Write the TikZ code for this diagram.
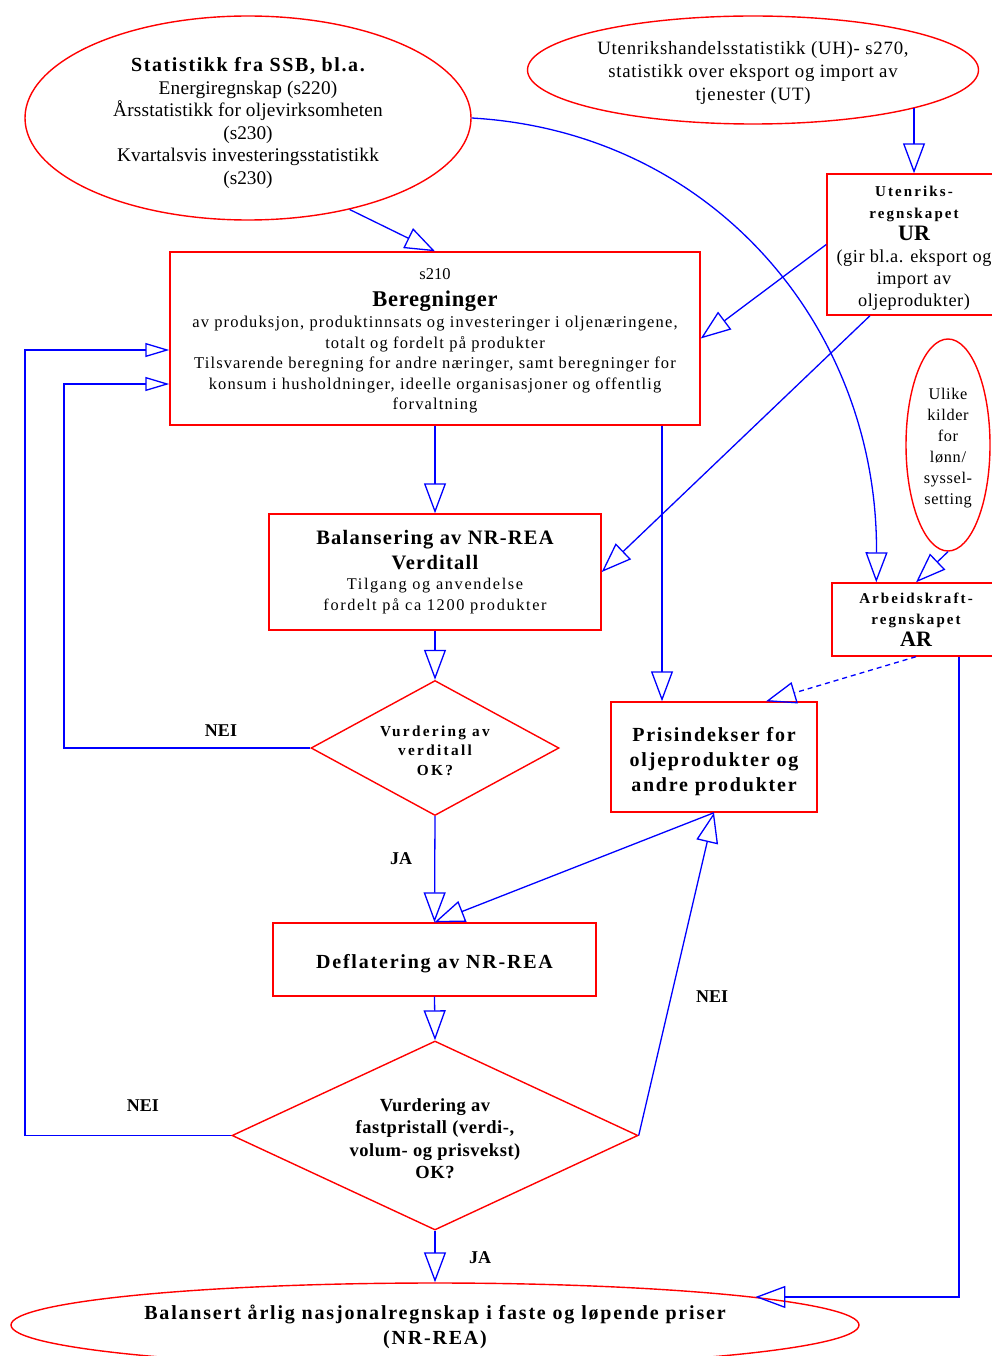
\documentclass[tikz,border=0pt]{standalone}
\usepackage{fontspec}
\setmainfont{Liberation Serif}
\usetikzlibrary{arrows.meta,shapes.geometric,calc}
\newcommand{\smallbold}[1]{{\fontsize{15}{21}\selectfont\bfseries\addfontfeature{LetterSpace=14}#1}}
\newcommand{\lsp}[2]{{\addfontfeature{LetterSpace=#1}#2}}
\newcommand{\up}[1]{\rule{0pt}{#1}}
\begin{document}
\begin{tikzpicture}[x=1pt,y=-1pt,
  redline/.style={draw=red,line width=1.4pt},
  boxnode/.style={redline,rectangle,inner sep=0pt,align=center},
  ellnode/.style={redline,ellipse,inner sep=0pt,align=center},
  dianode/.style={redline,diamond,inner sep=0pt,align=center},
  arr/.style={draw=blue,line width=1.3pt,-{Triangle[open,length=30pt,width=22pt,line width=1.3pt]}},
  arrsmall/.style={draw=blue,line width=1.3pt,-{Triangle[open,length=24pt,width=14pt,line width=1.3pt]}},
  lbl/.style={font=\fontsize{18}{20}\selectfont\bfseries,inner sep=0pt}
]
\useasboundingbox (0,0) rectangle (992,1356);

% source ellipses
\node[ellnode,minimum width=446pt,minimum height=204pt,font=\fontsize{19.3}{22.5}\selectfont] (ssb) at (248,118)
  {\up{24pt}{\fontsize{20}{22}\selectfont\bfseries\addfontfeature{LetterSpace=8}Statistikk fra SSB, bl.a.}\\
   \lsp{1}{Energiregnskap (s220)}\\
   \lsp{1}{Årsstatistikk for oljevirksomheten}\\ (s230)\\
   \lsp{1}{Kvartalsvis investeringsstatistikk}\\ (s230)};
\node[ellnode,minimum width=451pt,minimum height=108pt,font=\fontsize{18.8}{23}\selectfont] (uh) at (753,70)
  {\up{19pt}\lsp{4}{Utenrikshandelsstatistikk (UH)- s270,}\\
   \lsp{4}{statistikk over eksport og import av}\\ \lsp{4}{tjenester (UT)}};

% UR box
\node[boxnode,minimum width=174pt,minimum height=141pt,font=\fontsize{18.3}{22}\selectfont] (ur) at (914,244.5)
  {\up{17pt}\smallbold{Utenriks-}\\ \smallbold{regnskapet}\\
   {\fontsize{22}{21}\selectfont\bfseries UR}\\
   \lsp{3}{(gir bl.a. eksport og}\\ \lsp{3}{import av}\\ \lsp{3}{oljeprodukter)}};

% Beregninger
\node[boxnode,minimum width=530pt,minimum height=173pt,font=\fontsize{16.5}{20.5}\selectfont] (ber) at (435,338.5)
  {\up{16pt}s210\\[6pt]
   {\fontsize{22.5}{21}\selectfont\bfseries\addfontfeature{LetterSpace=3}Beregninger}\\[1pt]
   \lsp{7}{av produksjon, produktinnsats og investeringer i oljenæringene,}\\
   \lsp{7}{totalt og fordelt på produkter}\\
   \lsp{7}{Tilsvarende beregning for andre næringer, samt beregninger for}\\
   \lsp{7}{konsum i husholdninger, ideelle organisasjoner og offentlig}\\
   \lsp{7}{forvaltning}};

% Ulike kilder
\node[ellnode,minimum width=84pt,minimum height=212pt,font=\fontsize{16.3}{21}\selectfont] (ulike) at (948,445)
  {\up{18pt}\lsp{4}{Ulike}\\ \lsp{4}{kilder}\\ \lsp{4}{for}\\ \lsp{4}{lønn/}\\ \lsp{4}{syssel-}\\ \lsp{4}{setting}};

% AR box
\node[boxnode,minimum width=168pt,minimum height=73pt,font=\fontsize{15}{21}\selectfont] (ar) at (916,619.5)
  {\smallbold{Arbeidskraft-}\\ \smallbold{regnskapet}\\[1pt]
   {\fontsize{22}{21}\selectfont\bfseries AR}};

% Balansering
\node[boxnode,minimum width=332pt,minimum height=116pt,font=\fontsize{16.3}{21.5}\selectfont] (bal) at (435,572)
  {{\fontsize{20.5}{25}\selectfont\bfseries\addfontfeature{LetterSpace=6}Balansering av NR-REA}\\[4pt]
   {\fontsize{20.5}{25}\selectfont\bfseries\addfontfeature{LetterSpace=6}Verditall}\\[-2pt]
   \lsp{10}{Tilgang og anvendelse}\\
   \lsp{10}{fordelt på ca 1200 produkter}};

% diamond 1
\node[dianode,minimum width=248pt,minimum height=135pt,aspect=1.84,font=\fontsize{15.3}{19.5}\selectfont\bfseries] (d1) at (435,748)
  {\up{16pt}\lsp{15}{Vurdering av}\\ \lsp{15}{verditall}\\ \lsp{15}{OK?}};

% Prisindekser
\node[boxnode,minimum width=206pt,minimum height=110pt,font=\fontsize{20}{25}\selectfont\bfseries] (pris) at (714,757)
  {\up{24pt}\lsp{9}{Prisindekser for}\\ \lsp{9}{oljeprodukter og}\\ \lsp{9}{andre produkter}};

% Deflatering
\node[boxnode,minimum width=323pt,minimum height=73pt,font=\fontsize{20}{25}\selectfont\bfseries] (defl) at (434.5,959.5)
  {\up{22pt}\lsp{9}{Deflatering av NR-REA}};

% diamond 2
\node[dianode,minimum width=406pt,minimum height=189pt,aspect=2.15,font=\fontsize{18.5}{22.5}\selectfont\bfseries] (d2) at (435,1135.5)
  {\up{19pt}\lsp{3}{Vurdering av}\\ \lsp{3}{fastpristall (verdi-,}\\ \lsp{3}{volum- og prisvekst)}\\ \lsp{3}{OK?}};

% bottom ellipse
\node[ellnode,minimum width=848pt,minimum height=84pt,font=\fontsize{20}{25}\selectfont\bfseries] (bot) at (435,1325)
  {\up{19pt}\lsp{9}{Balansert årlig nasjonalregnskap i faste og løpende priser}\\ \lsp{9}{(NR-REA)}};

% helper coordinates
\coordinate (arIn) at ($(ar.north west)+(45,0)$);
\coordinate (urOut) at ($(ur.south)+(-44,0)$);
\coordinate (prIn) at ($(pris.north)+(-52,0)$);
\coordinate (prIn2) at ($(pris.north)+(52,0)$);
\coordinate (arOut) at ($(ar.south)+(43,0)$);
\coordinate (berIn1) at ($(ber.west)+(0,45.5)$);
\coordinate (berIn2) at ($(ber.west)+(0,11.5)$);
\coordinate (loop1) at (64,748);
\coordinate (loop2) at (25,1135.5);

% connectors
\draw[arr] (ur.north |- uh.-13.2) -- (ur.north);
\draw[arr] (ssb.-42.6) -- (ber.north);
\draw[arr] (ur.west) -- (ber.east);
\draw[arr] (ssb.east) .. controls (715,132) and (878,330) .. (arIn);
\draw[arr] (urOut) -- (bal.east);
\draw[arr] (ber.south) -- (bal.north);
\draw[arr] (ber.south -| prIn) -- (prIn);
\draw[arr] (ulike.south) -- (ar.north);
\draw[arr,dash pattern=on 5pt off 4pt] (ar.south) -- (prIn2);
\draw[arr] (arOut) |- (bot.5.7);
\draw[arr] (bal.south) -- (d1.north);
\draw[arrsmall] (d1.west) -- (loop1) |- (berIn1);
\draw[arr] (d1.south) -- (defl.north);
\draw[arr] (pris.south) -- (defl.north);
\draw[arr] (d2.east) -- (pris.south);
\draw[arr] (defl.south) -- (d2.north);
\draw[arrsmall] (d2.west) -- (loop2) |- (berIn2);
\draw[arr] (d2.south) -- (bot.north);

% labels
\node[lbl] (nei1) at (221,731) {NEI};
\node[lbl] (ja1) at (401,859) {JA};
\node[lbl] (nei2) at (712,997) {NEI};
\node[lbl] (nei3) at (143,1106) {NEI};
\node[lbl] (ja2) at (480,1258) {JA};
\end{tikzpicture}
\end{document}
